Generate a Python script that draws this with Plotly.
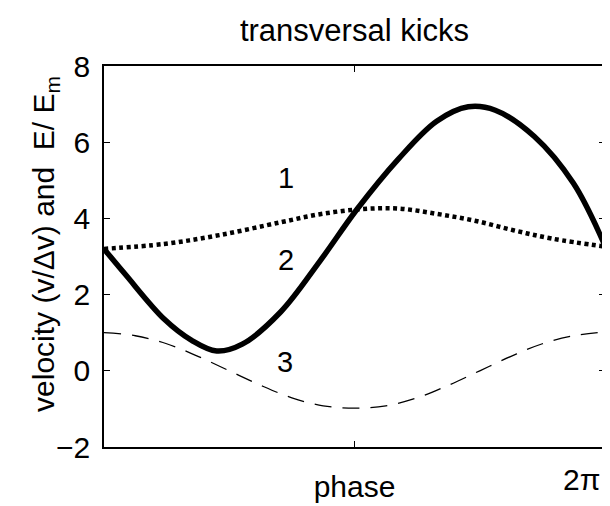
import numpy as np
import plotly.graph_objects as go

# phase as fraction of the full period (0..1)
solid_phase = [0.0, 0.042, 0.12, 0.175, 0.225, 0.276, 0.353, 0.431, 0.505,
               0.587, 0.664, 0.727, 0.781, 0.859, 0.937, 1.0]
solid_vals = [3.2, 2.54, 1.36, 0.8, 0.52, 0.7, 1.55, 2.88, 4.24,
              5.55, 6.55, 6.93, 6.84, 6.15, 4.92, 3.28]

dot_phase = [0.0, 0.12, 0.23, 0.353, 0.431, 0.51, 0.587, 0.664, 0.74, 0.817, 0.894, 1.0]
dot_vals = [3.2, 3.33, 3.56, 3.9, 4.11, 4.24, 4.26, 4.12, 3.94, 3.69, 3.47, 3.26]

dash_phase = [0.0, 0.0625, 0.125, 0.1875, 0.25, 0.3125, 0.375, 0.4375, 0.5,
              0.5625, 0.625, 0.6875, 0.75, 0.8125, 0.875, 0.9375, 1.0]
dash_vals = [1.0, 0.92, 0.71, 0.38, 0.0, -0.38, -0.71, -0.92, -0.98,
             -0.92, -0.71, -0.38, 0.0, 0.38, 0.71, 0.92, 1.02]

curve_labels = ["1", "2", "3"]
label_phase = [0.364, 0.364, 0.362]
label_vals = [5.05, 2.92, 0.24]

y_ticks = [-2, 0, 2, 4, 6, 8]
TWO_PI = 2 * np.pi

FONT = "Liberation Sans, Arial, Helvetica, sans-serif"

def to_rad(p):
    return [v * TWO_PI for v in p]

fig = go.Figure()
fig.add_trace(go.Scatter(x=to_rad(dash_phase), y=dash_vals, mode="lines",
                         line=dict(color="black", width=1.3, dash="17px,11px", shape="spline"),
                         showlegend=False, hoverinfo="skip"))
fig.add_trace(go.Scatter(x=to_rad(dot_phase), y=dot_vals, mode="lines",
                         line=dict(color="black", width=4.5, dash="4px,3.5px", shape="spline"),
                         showlegend=False, hoverinfo="skip"))
fig.add_trace(go.Scatter(x=to_rad(solid_phase), y=solid_vals, mode="lines",
                         line=dict(color="black", width=5.5, shape="spline", smoothing=1.0),
                         showlegend=False, hoverinfo="skip"))

for t, p, v in zip(curve_labels, label_phase, label_vals):
    fig.add_annotation(x=p * TWO_PI, y=v, text=t, showarrow=False,
                       font=dict(family=FONT, size=29, color="black"))

# 2π label at the right end of the x axis
fig.add_annotation(x=TWO_PI, y=0, xref="x", yref="paper", text="2π", showarrow=False,
                   xanchor="right", yanchor="top", xshift=-3, yshift=-14,
                   font=dict(family=FONT, size=30, color="black"))

# y-axis title
fig.add_annotation(x=-0.117, y=0.534, xref="paper", yref="paper", textangle=-90,
                   text="velocity (v/Δv) and\u00a0\u00a0E/ E<sub>m</sub>", showarrow=False,
                   xanchor="center", yanchor="middle",
                   font=dict(family=FONT, size=30, color="black"))

fig.update_layout(
    width=610, height=506,
    margin=dict(l=96, r=11, t=58, b=54),
    paper_bgcolor="white", plot_bgcolor="white",
    title=dict(text="transversal kicks", x=0.5, xref="paper", xanchor="center",
               y=0.957, yref="container", yanchor="middle",
               font=dict(family=FONT, size=31, color="black")),
    font=dict(family=FONT, size=30, color="black"),
    xaxis=dict(range=[0, TWO_PI], tickvals=[np.pi], ticktext=["phase"],
               ticks="inside", ticklen=6, tickwidth=1, tickcolor="black",
               showline=True, linecolor="black", linewidth=1.5, mirror="ticks",
               showgrid=False, zeroline=False, ticklabelstandoff=12,
               tickfont=dict(family=FONT, size=30, color="black")),
    yaxis=dict(range=[-2, 8], tickvals=y_ticks, ticktext=[str(v).replace("-", "\u2212") for v in y_ticks],
               ticks="inside", ticklen=6, tickwidth=1, tickcolor="black",
               showline=True, linecolor="black", linewidth=1.5, mirror="ticks",
               showgrid=False, zeroline=False, ticklabelstandoff=6,
               tickfont=dict(family=FONT, size=30, color="black")),
)

fig.write_html("out.html")
